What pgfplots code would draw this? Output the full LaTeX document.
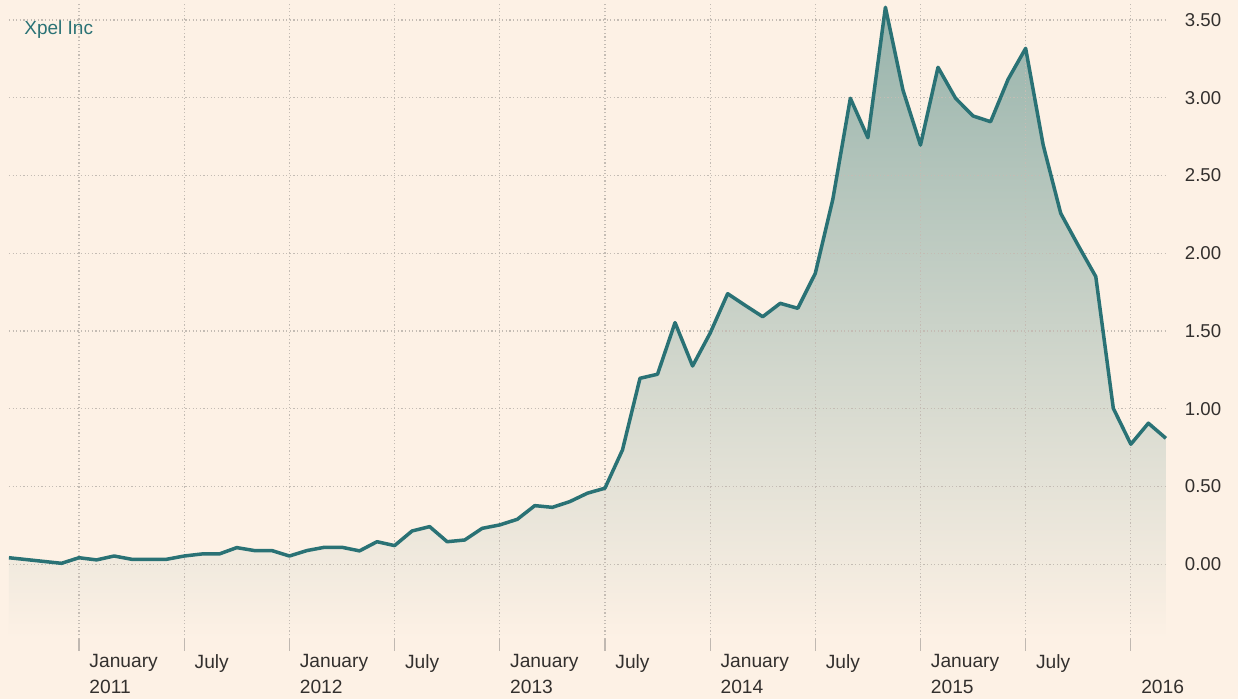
\documentclass[border=0pt]{standalone}
\usepackage{pgfplots}
\usepackage{pgfplotstable}
\pgfplotsset{compat=1.18}
\usepackage{fontspec}
\setmainfont{Liberation Sans}
\definecolor{ftbg}{RGB}{253,241,229}
\definecolor{ftline}{RGB}{42,114,117}
\definecolor{ftfill}{RGB}{152,180,172}
\definecolor{ftgrid}{RGB}{196,188,180}
\definecolor{fttext}{RGB}{51,48,46}
\definecolor{fttick}{RGB}{192,184,177}

\pgfplotstableread{
m v
-4 0.042
-3 0.030
-2 0.018
-1 0.006
0 0.042
1 0.028
2 0.053
3 0.032
4 0.032
5 0.032
6 0.053
7 0.066
8 0.066
9 0.107
10 0.088
11 0.088
12 0.053
13 0.088
14 0.109
15 0.109
16 0.086
17 0.145
18 0.120
19 0.214
20 0.242
21 0.145
22 0.156
23 0.231
24 0.253
25 0.289
26 0.377
27 0.366
28 0.403
29 0.457
30 0.489
31 0.735
32 1.196
33 1.222
34 1.554
35 1.275
36 1.486
37 1.740
38 1.665
39 1.592
40 1.678
41 1.646
42 1.871
43 2.347
44 2.997
45 2.743
46 3.582
47 3.050
48 2.696
49 3.196
50 2.997
51 2.883
52 2.846
53 3.119
54 3.318
55 2.696
56 2.257
57 2.050
58 1.850
59 1.003
60 0.772
61 0.907
62 0.810
}\pricedata

\begin{document}
\begin{tikzpicture}
\useasboundingbox (0,0) rectangle (619pt,349.5pt);
\fill[ftbg] (0,0) rectangle (619pt,349.5pt);
\begin{axis}[
  at={(4.45pt,30.05pt)}, anchor=south west,
  scale only axis, width=578.5pt, height=317.2pt,
  xmin=-4, xmax=62, ymin=-0.48, ymax=3.6,
  axis on top,
  axis line style={draw=none},
  xtick={0,6,12,18,24,30,36,42,48,54,60},
  xticklabels={{January\\2011},July,{January\\2012},July,{January\\2013},July,{January\\2014},July,{January\\2015},July,{\vphantom{January}\\2016}},
  ytick={0,0.5,1,1.5,2,2.5,3,3.5},
  ytick pos=right, xtick pos=bottom,
  tick align=outside, major tick length=6pt,
  xtick style={draw=fttick, line width=0.6pt},
  ytick style={draw=none},
  grid=major,
  major grid style={ftgrid, line width=0.6pt, dash pattern=on 0.6pt off 1.2pt},
  yticklabel style={font=\fontsize{9.3}{11}\selectfont, text=fttext, anchor=west},
  xticklabel style={font=\fontsize{9.6}{13}\selectfont, text=fttext, anchor=north west, align=left, xshift=1.7pt, yshift=1.8pt},
  y tick label style={/pgf/number format/.cd, fixed, fixed zerofill, precision=2, assume math mode=true},
]
\addplot[draw=none, top color=ftfill, bottom color=ftbg, forget plot] table[x=m, y=v] {\pricedata} -- (axis cs:62,-0.48) -- (axis cs:-4,-0.48) -- cycle;
\end{axis}
\begin{axis}[
  at={(4.45pt,30.05pt)}, anchor=south west,
  scale only axis, width=578.5pt, height=317.2pt,
  xmin=-4, xmax=62, ymin=-0.48, ymax=3.6,
  hide axis, clip=false,
]
\addplot[ftline, line width=1.75pt, line join=round, mark=none] table[x=m, y=v] {\pricedata};
\end{axis}
\node[anchor=base west, inner sep=0pt, text=ftline, font=\fontsize{9.5}{10}\selectfont] at (12pt,332pt) {Xpel Inc};
\end{tikzpicture}
\end{document}
